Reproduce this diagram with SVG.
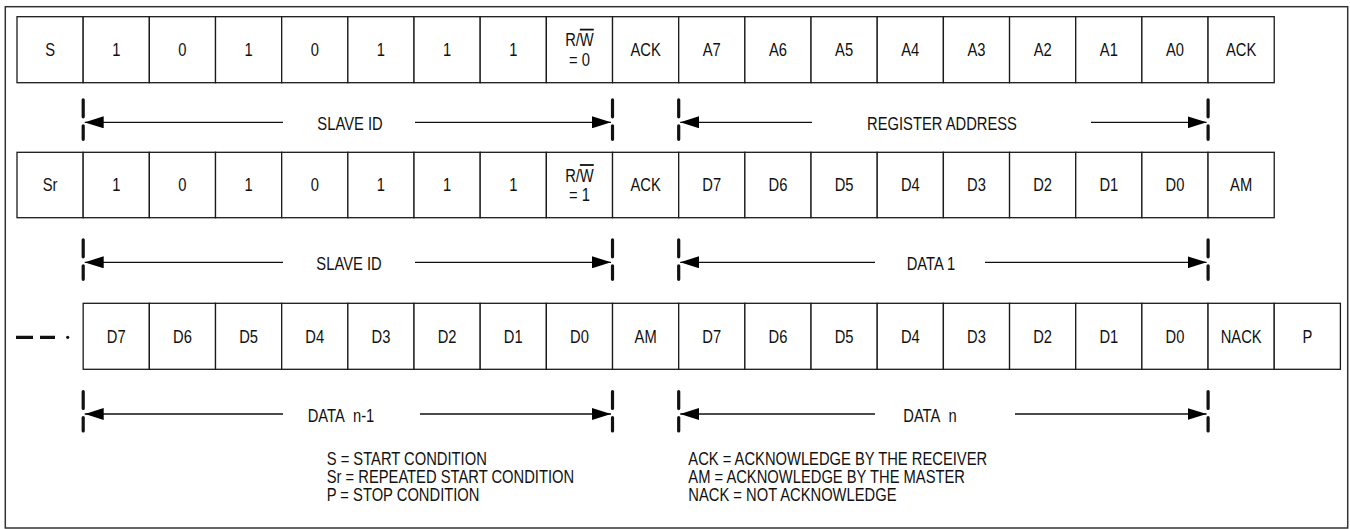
<svg xmlns="http://www.w3.org/2000/svg" width="1350" height="529" viewBox="0 0 1350 529">
<style>
.frame{fill:#fff;stroke:#333;stroke-width:1.5}
.cell{fill:#fff;stroke:#1a1a1a;stroke-width:1.3}
.t{font-family:"Liberation Sans",Arial,Helvetica,sans-serif;font-size:18px;fill:#111;text-anchor:middle}
.l{font-family:"Liberation Sans",Arial,Helvetica,sans-serif;font-size:18px;fill:#111;text-anchor:start}
.ln{stroke:#111;stroke-width:1.3;fill:none}
.tk{stroke:#111;stroke-width:3.2;stroke-linecap:round;fill:none}
.ds{stroke:#111;stroke-width:3.2;fill:none}
</style>
<defs>
<marker id="ah" viewBox="0 0 19 12" refX="19" refY="6" markerWidth="19" markerHeight="12" markerUnits="userSpaceOnUse" orient="auto"><path d="M0,0 L19,6 L0,12 z" fill="#000"/></marker>
</defs>
<rect class="frame" x="5.3" y="6.7" width="1342.4" height="521.3"/>

<!-- Row 1 -->
<g id="row1">
<g id="r1c0"><rect class="cell" x="17" y="16.7" width="66.17" height="66"/><text class="t" transform="translate(50.09 55.7) scale(0.82 1)">S</text></g>
<g id="r1c1"><rect class="cell" x="83.17" y="16.7" width="66.17" height="66"/><text class="t" transform="translate(116.26 55.7) scale(0.82 1)">1</text></g>
<g id="r1c2"><rect class="cell" x="149.34" y="16.7" width="66.17" height="66"/><text class="t" transform="translate(182.43 55.7) scale(0.82 1)">0</text></g>
<g id="r1c3"><rect class="cell" x="215.51" y="16.7" width="66.17" height="66"/><text class="t" transform="translate(248.6 55.7) scale(0.82 1)">1</text></g>
<g id="r1c4"><rect class="cell" x="281.68" y="16.7" width="66.17" height="66"/><text class="t" transform="translate(314.77 55.7) scale(0.82 1)">0</text></g>
<g id="r1c5"><rect class="cell" x="347.85" y="16.7" width="66.17" height="66"/><text class="t" transform="translate(380.94 55.7) scale(0.82 1)">1</text></g>
<g id="r1c6"><rect class="cell" x="414.02" y="16.7" width="66.17" height="66"/><text class="t" transform="translate(447.1 55.7) scale(0.82 1)">1</text></g>
<g id="r1c7"><rect class="cell" x="480.19" y="16.7" width="66.17" height="66"/><text class="t" transform="translate(513.28 55.7) scale(0.82 1)">1</text></g>
<g id="r1c8"><rect class="cell" x="546.36" y="16.7" width="66.17" height="66"/><text class="t" transform="translate(579.45 46.2) scale(0.82 1)">R/<tspan text-decoration="overline">W</tspan></text><text class="t" transform="translate(579.45 65.7) scale(0.82 1)">= 0</text></g>
<g id="r1c9"><rect class="cell" x="612.53" y="16.7" width="66.17" height="66"/><text class="t" transform="translate(645.62 55.7) scale(0.82 1)">ACK</text></g>
<g id="r1c10"><rect class="cell" x="678.7" y="16.7" width="66.17" height="66"/><text class="t" transform="translate(711.79 55.7) scale(0.82 1)">A7</text></g>
<g id="r1c11"><rect class="cell" x="744.87" y="16.7" width="66.17" height="66"/><text class="t" transform="translate(777.96 55.7) scale(0.82 1)">A6</text></g>
<g id="r1c12"><rect class="cell" x="811.04" y="16.7" width="66.17" height="66"/><text class="t" transform="translate(844.13 55.7) scale(0.82 1)">A5</text></g>
<g id="r1c13"><rect class="cell" x="877.21" y="16.7" width="66.17" height="66"/><text class="t" transform="translate(910.3 55.7) scale(0.82 1)">A4</text></g>
<g id="r1c14"><rect class="cell" x="943.38" y="16.7" width="66.17" height="66"/><text class="t" transform="translate(976.47 55.7) scale(0.82 1)">A3</text></g>
<g id="r1c15"><rect class="cell" x="1009.55" y="16.7" width="66.17" height="66"/><text class="t" transform="translate(1042.64 55.7) scale(0.82 1)">A2</text></g>
<g id="r1c16"><rect class="cell" x="1075.72" y="16.7" width="66.17" height="66"/><text class="t" transform="translate(1108.81 55.7) scale(0.82 1)">A1</text></g>
<g id="r1c17"><rect class="cell" x="1141.89" y="16.7" width="66.17" height="66"/><text class="t" transform="translate(1174.98 55.7) scale(0.82 1)">A0</text></g>
<g id="r1c18"><rect class="cell" x="1208.06" y="16.7" width="66.17" height="66"/><text class="t" transform="translate(1241.15 55.7) scale(0.82 1)">ACK</text></g>
</g>

<!-- Row 2 -->
<g id="row2">
<g id="r2c0"><rect class="cell" x="17" y="152.3" width="66.17" height="65.4"/><text class="t" transform="translate(50.09 191.2) scale(0.82 1)">Sr</text></g>
<g id="r2c1"><rect class="cell" x="83.17" y="152.3" width="66.17" height="65.4"/><text class="t" transform="translate(116.26 191.2) scale(0.82 1)">1</text></g>
<g id="r2c2"><rect class="cell" x="149.34" y="152.3" width="66.17" height="65.4"/><text class="t" transform="translate(182.43 191.2) scale(0.82 1)">0</text></g>
<g id="r2c3"><rect class="cell" x="215.51" y="152.3" width="66.17" height="65.4"/><text class="t" transform="translate(248.6 191.2) scale(0.82 1)">1</text></g>
<g id="r2c4"><rect class="cell" x="281.68" y="152.3" width="66.17" height="65.4"/><text class="t" transform="translate(314.77 191.2) scale(0.82 1)">0</text></g>
<g id="r2c5"><rect class="cell" x="347.85" y="152.3" width="66.17" height="65.4"/><text class="t" transform="translate(380.94 191.2) scale(0.82 1)">1</text></g>
<g id="r2c6"><rect class="cell" x="414.02" y="152.3" width="66.17" height="65.4"/><text class="t" transform="translate(447.1 191.2) scale(0.82 1)">1</text></g>
<g id="r2c7"><rect class="cell" x="480.19" y="152.3" width="66.17" height="65.4"/><text class="t" transform="translate(513.28 191.2) scale(0.82 1)">1</text></g>
<g id="r2c8"><rect class="cell" x="546.36" y="152.3" width="66.17" height="65.4"/><text class="t" transform="translate(579.45 181.6) scale(0.82 1)">R/<tspan text-decoration="overline">W</tspan></text><text class="t" transform="translate(579.45 201.1) scale(0.82 1)">= 1</text></g>
<g id="r2c9"><rect class="cell" x="612.53" y="152.3" width="66.17" height="65.4"/><text class="t" transform="translate(645.62 191.2) scale(0.82 1)">ACK</text></g>
<g id="r2c10"><rect class="cell" x="678.7" y="152.3" width="66.17" height="65.4"/><text class="t" transform="translate(711.79 191.2) scale(0.82 1)">D7</text></g>
<g id="r2c11"><rect class="cell" x="744.87" y="152.3" width="66.17" height="65.4"/><text class="t" transform="translate(777.96 191.2) scale(0.82 1)">D6</text></g>
<g id="r2c12"><rect class="cell" x="811.04" y="152.3" width="66.17" height="65.4"/><text class="t" transform="translate(844.13 191.2) scale(0.82 1)">D5</text></g>
<g id="r2c13"><rect class="cell" x="877.21" y="152.3" width="66.17" height="65.4"/><text class="t" transform="translate(910.3 191.2) scale(0.82 1)">D4</text></g>
<g id="r2c14"><rect class="cell" x="943.38" y="152.3" width="66.17" height="65.4"/><text class="t" transform="translate(976.47 191.2) scale(0.82 1)">D3</text></g>
<g id="r2c15"><rect class="cell" x="1009.55" y="152.3" width="66.17" height="65.4"/><text class="t" transform="translate(1042.64 191.2) scale(0.82 1)">D2</text></g>
<g id="r2c16"><rect class="cell" x="1075.72" y="152.3" width="66.17" height="65.4"/><text class="t" transform="translate(1108.81 191.2) scale(0.82 1)">D1</text></g>
<g id="r2c17"><rect class="cell" x="1141.89" y="152.3" width="66.17" height="65.4"/><text class="t" transform="translate(1174.98 191.2) scale(0.82 1)">D0</text></g>
<g id="r2c18"><rect class="cell" x="1208.06" y="152.3" width="66.17" height="65.4"/><text class="t" transform="translate(1241.15 191.2) scale(0.82 1)">AM</text></g>
</g>

<!-- Row 3 -->
<g id="row3">
<g id="r3c0"><rect class="cell" x="83.17" y="303.3" width="66.17" height="66"/><text class="t" transform="translate(116.26 342.5) scale(0.82 1)">D7</text></g>
<g id="r3c1"><rect class="cell" x="149.34" y="303.3" width="66.17" height="66"/><text class="t" transform="translate(182.43 342.5) scale(0.82 1)">D6</text></g>
<g id="r3c2"><rect class="cell" x="215.51" y="303.3" width="66.17" height="66"/><text class="t" transform="translate(248.6 342.5) scale(0.82 1)">D5</text></g>
<g id="r3c3"><rect class="cell" x="281.68" y="303.3" width="66.17" height="66"/><text class="t" transform="translate(314.77 342.5) scale(0.82 1)">D4</text></g>
<g id="r3c4"><rect class="cell" x="347.85" y="303.3" width="66.17" height="66"/><text class="t" transform="translate(380.94 342.5) scale(0.82 1)">D3</text></g>
<g id="r3c5"><rect class="cell" x="414.02" y="303.3" width="66.17" height="66"/><text class="t" transform="translate(447.1 342.5) scale(0.82 1)">D2</text></g>
<g id="r3c6"><rect class="cell" x="480.19" y="303.3" width="66.17" height="66"/><text class="t" transform="translate(513.28 342.5) scale(0.82 1)">D1</text></g>
<g id="r3c7"><rect class="cell" x="546.36" y="303.3" width="66.17" height="66"/><text class="t" transform="translate(579.45 342.5) scale(0.82 1)">D0</text></g>
<g id="r3c8"><rect class="cell" x="612.53" y="303.3" width="66.17" height="66"/><text class="t" transform="translate(645.62 342.5) scale(0.82 1)">AM</text></g>
<g id="r3c9"><rect class="cell" x="678.7" y="303.3" width="66.17" height="66"/><text class="t" transform="translate(711.79 342.5) scale(0.82 1)">D7</text></g>
<g id="r3c10"><rect class="cell" x="744.87" y="303.3" width="66.17" height="66"/><text class="t" transform="translate(777.96 342.5) scale(0.82 1)">D6</text></g>
<g id="r3c11"><rect class="cell" x="811.04" y="303.3" width="66.17" height="66"/><text class="t" transform="translate(844.13 342.5) scale(0.82 1)">D5</text></g>
<g id="r3c12"><rect class="cell" x="877.21" y="303.3" width="66.17" height="66"/><text class="t" transform="translate(910.3 342.5) scale(0.82 1)">D4</text></g>
<g id="r3c13"><rect class="cell" x="943.38" y="303.3" width="66.17" height="66"/><text class="t" transform="translate(976.47 342.5) scale(0.82 1)">D3</text></g>
<g id="r3c14"><rect class="cell" x="1009.55" y="303.3" width="66.17" height="66"/><text class="t" transform="translate(1042.64 342.5) scale(0.82 1)">D2</text></g>
<g id="r3c15"><rect class="cell" x="1075.72" y="303.3" width="66.17" height="66"/><text class="t" transform="translate(1108.81 342.5) scale(0.82 1)">D1</text></g>
<g id="r3c16"><rect class="cell" x="1141.89" y="303.3" width="66.17" height="66"/><text class="t" transform="translate(1174.98 342.5) scale(0.82 1)">D0</text></g>
<g id="r3c17"><rect class="cell" x="1208.06" y="303.3" width="66.17" height="66"/><text class="t" transform="translate(1241.15 342.5) scale(0.82 1)">NACK</text></g>
<g id="r3c18"><rect class="cell" x="1274.23" y="303.3" width="66.17" height="66"/><text class="t" transform="translate(1307.32 342.5) scale(0.82 1)">P</text></g>
</g>

<!-- continuation mark -->
<g id="continuation">
<path class="ds" d="M16,337.3 H33 M40,337.3 H55"/>
<circle cx="67.7" cy="337.3" r="1.6" fill="#111"/>
</g>

<!-- Connectors: span arrows -->
<g id="connectors">
<!-- arrow row 1 -->
<line class="ln" x1="283" y1="122.3" x2="84.7" y2="122.3" marker-end="url(#ah)"/>
<line class="ln" x1="415" y1="122.3" x2="611" y2="122.3" marker-end="url(#ah)"/>
<line class="ln" x1="812" y1="122.3" x2="680.2" y2="122.3" marker-end="url(#ah)"/>
<line class="ln" x1="1091" y1="122.3" x2="1206.6" y2="122.3" marker-end="url(#ah)"/>
<path class="tk" d="M83.2,99.8 V116.8 M83.2,125.8 V139.3 M612.5,99.8 V116.8 M612.5,125.8 V139.3 M678.7,99.8 V116.8 M678.7,125.8 V139.3 M1208.1,99.8 V116.8 M1208.1,125.8 V139.3"/>
<!-- arrow row 2 -->
<line class="ln" x1="283" y1="262.3" x2="84.7" y2="262.3" marker-end="url(#ah)"/>
<line class="ln" x1="415" y1="262.3" x2="611" y2="262.3" marker-end="url(#ah)"/>
<line class="ln" x1="875" y1="262.3" x2="680.2" y2="262.3" marker-end="url(#ah)"/>
<line class="ln" x1="985" y1="262.3" x2="1206.6" y2="262.3" marker-end="url(#ah)"/>
<path class="tk" d="M83.2,239.8 V256.8 M83.2,265.8 V279.3 M612.5,239.8 V256.8 M612.5,265.8 V279.3 M678.7,239.8 V256.8 M678.7,265.8 V279.3 M1208.1,239.8 V256.8 M1208.1,265.8 V279.3"/>
<!-- arrow row 3 -->
<line class="ln" x1="283" y1="414" x2="84.7" y2="414" marker-end="url(#ah)"/>
<line class="ln" x1="420" y1="414" x2="611" y2="414" marker-end="url(#ah)"/>
<line class="ln" x1="875" y1="414" x2="680.2" y2="414" marker-end="url(#ah)"/>
<line class="ln" x1="1015" y1="414" x2="1206.6" y2="414" marker-end="url(#ah)"/>
<path class="tk" d="M83.2,391.5 V408.5 M83.2,417.5 V431 M612.5,391.5 V408.5 M612.5,417.5 V431 M678.7,391.5 V408.5 M678.7,417.5 V431 M1208.1,391.5 V408.5 M1208.1,417.5 V431"/>
</g>

<!-- span labels -->
<g id="span-labels">
<text class="t" transform="translate(350 130.3) scale(0.82 1)">SLAVE ID</text>
<text class="t" transform="translate(942 130.3) scale(0.82 1)">REGISTER ADDRESS</text>
<text class="t" transform="translate(349 270.3) scale(0.82 1)">SLAVE ID</text>
<text class="t" transform="translate(931 270.3) scale(0.82 1)">DATA 1</text>
<text class="t" transform="translate(341 422) scale(0.82 1)">DATA&#160; n-1</text>
<text class="t" transform="translate(930 422) scale(0.82 1)">DATA&#160; n</text>
</g>

<!-- legend -->
<g id="legend">
<text class="l" transform="translate(326.7 464.5) scale(0.82 1)">S = START CONDITION</text>
<text class="l" transform="translate(326.7 482.5) scale(0.82 1)">Sr = REPEATED START CONDITION</text>
<text class="l" transform="translate(326.7 500.5) scale(0.82 1)">P = STOP CONDITION</text>
<text class="l" transform="translate(688.3 464.5) scale(0.82 1)">ACK = ACKNOWLEDGE BY THE RECEIVER</text>
<text class="l" transform="translate(688.3 482.5) scale(0.82 1)">AM = ACKNOWLEDGE BY THE MASTER</text>
<text class="l" transform="translate(688.3 500.5) scale(0.82 1)">NACK = NOT ACKNOWLEDGE</text>
</g>
</svg>
